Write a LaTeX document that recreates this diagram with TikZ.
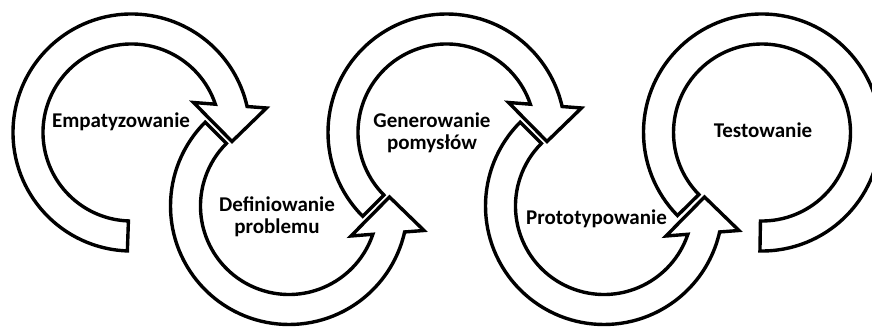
\documentclass[tikz,border=0pt]{standalone}
\usepackage{fontspec}
\setmainfont{Carlito}
\begin{document}
\begin{tikzpicture}[x=1pt,y=1pt,
  ring/.style={draw=black, fill=white, line width=3.4pt, line join=miter},
  steplabel/.style={font=\fontsize{21}{22}\selectfont\bfseries, align=center, anchor=base, inner sep=0pt}]
\useasboundingbox (0,0) rectangle (872,328);
\clip (0,0) rectangle (872,328);
\def\Rin{88.5}
\def\Rout{118.5}
% 1: clockwise arc, flat tail at the bottom, head on the right
\begin{scope}[shift={(131.5,195.5)}]
  \draw[ring] (268:\Rout) arc[start angle=268, end angle=12.66, radius=\Rout]
    -- (135,24.5) -- (100.5,-9) -- (62,30) -- (18.64:\Rin)
    arc[start angle=18.64, end angle=268, radius=\Rin] -- cycle;
\end{scope}
% 2: counter-clockwise arc, slanted tail at the upper left, head pointing up
\begin{scope}[shift={(289,122)}]
  \draw[ring] (-225:\Rout) arc[start angle=-225, end angle=-12.66, radius=\Rout]
    -- (135,-24.5) -- (100.5,9) -- (62,-30) -- (-18.64:\Rin)
    arc[start angle=-18.64, end angle=-225, radius=\Rin] -- cycle;
\end{scope}
% 3: clockwise arc, slanted tail at the lower left, head on the right
\begin{scope}[shift={(446.5,195.5)}]
  \draw[ring] (225:\Rout) arc[start angle=225, end angle=12.66, radius=\Rout]
    -- (135,24.5) -- (100.5,-9) -- (62,30) -- (18.64:\Rin)
    arc[start angle=18.64, end angle=225, radius=\Rin] -- cycle;
\end{scope}
% 4: counter-clockwise arc, slanted tail at the upper left, head pointing up
\begin{scope}[shift={(604,122)}]
  \draw[ring] (-225:\Rout) arc[start angle=-225, end angle=-12.66, radius=\Rout]
    -- (135,-24.5) -- (100.5,9) -- (62,-30) -- (-18.64:\Rin)
    arc[start angle=-18.64, end angle=-225, radius=\Rin] -- cycle;
\end{scope}
% 5: open ring without head
\begin{scope}[shift={(762,195.5)}]
  \draw[ring] (-91:\Rout) arc[start angle=-91, end angle=224.5, radius=\Rout]
    -- (224.5:\Rin) arc[start angle=224.5, end angle=-91, radius=\Rin] -- cycle;
\end{scope}
% stage names (base anchor sits on the last line)
\node[steplabel] (s1) at (121,200) {Empatyzowanie};
\node[steplabel] (s2) at (277,94) {Definiowanie\\problemu};
\node[steplabel] (s3) at (432,178) {Generowanie\\pomysłów};
\node[steplabel] (s4) at (596.5,103) {Prototypowanie};
\node[steplabel] (s5) at (763,190.7) {Testowanie};
\end{tikzpicture}
\end{document}
